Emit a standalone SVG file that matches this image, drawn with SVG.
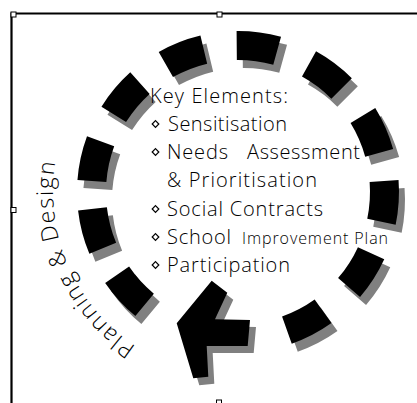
<svg xmlns="http://www.w3.org/2000/svg" xmlns:xlink="http://www.w3.org/1999/xlink" width="417" height="403" viewBox="0 0 417 403">
<style>
.blk{fill:#000}
.shd{fill:#808080}
.t{font-family:"Open Sans","Liberation Sans",sans-serif;font-weight:300;fill:#000}
.bul{fill:#fff;stroke:#000;stroke-width:1.2}
.hdl{fill:#fff;stroke:#000;stroke-width:1}
.frm{fill:none;stroke:#000;stroke-width:2.2}
</style>
<defs>
<path id="seg" d="M130.72,-18.37 L159.43,-22.41 A161,161 0 0 1 159.43,22.41 L130.72,18.37 A132,132 0 0 0 130.72,-18.37 Z"/>
<path id="arw" d="M211.7,280.7 L227.3,292.7 L215,319.3 L250,320 L247.7,346 L206.7,346 L208.3,376.7 L193.3,378.3 L176.7,323.3 Z"/>
<path id="pd-arc" d="M135.9,346.3 A185,185 0 0 1 55.8,159.9"/>
<path id="dia" d="M0,-3.3 L3.3,0 L0,3.3 L-3.3,0 Z"/>
</defs>
<rect width="417" height="403" fill="#fff"/>
<g id="frame">
<path class="frm" d="M11.5,403 V13.5 H417"/>
<rect class="hdl" x="11" y="12" width="5" height="5"/>
<rect class="hdl" x="217" y="12" width="5" height="5"/>
<rect class="hdl" x="11" y="207.5" width="5" height="5"/>
<rect class="hdl" x="216.5" y="400" width="5" height="5"/>
</g>
<g id="cycle">
<g id="seg-a"><use href="#seg" class="shd" transform="translate(244,200) rotate(-111.5)"/><use href="#seg" class="blk" transform="translate(238,192) rotate(-111.5)"/></g>
<g id="seg-b"><use href="#seg" class="shd" transform="translate(244,200) rotate(-82.5)"/><use href="#seg" class="blk" transform="translate(238,192) rotate(-82.5)"/></g>
<g id="seg-c"><use href="#seg" class="shd" transform="translate(244,200) rotate(-53)"/><use href="#seg" class="blk" transform="translate(238,192) rotate(-53)"/></g>
<g id="seg-d"><use href="#seg" class="shd" transform="translate(244,200) rotate(-23.5)"/><use href="#seg" class="blk" transform="translate(238,192) rotate(-23.5)"/></g>
<g id="seg-e"><use href="#seg" class="shd" transform="translate(244,200) rotate(3.7)"/><use href="#seg" class="blk" transform="translate(238,192) rotate(3.7)"/></g>
<g id="seg-f"><use href="#seg" class="shd" transform="translate(244,200) rotate(32.7)"/><use href="#seg" class="blk" transform="translate(238,192) rotate(32.7)"/></g>
<g id="seg-g"><use href="#seg" class="shd" transform="translate(244,200) rotate(62.5)"/><use href="#seg" class="blk" transform="translate(238,192) rotate(62.5)"/></g>
<g id="arrow-head"><use href="#arw" class="shd" transform="translate(6,7)"/><use href="#arw" class="blk"/></g>
<g id="seg-i"><use href="#seg" class="shd" transform="translate(244,200) rotate(137.6)"/><use href="#seg" class="blk" transform="translate(238,192) rotate(137.6)"/></g>
<g id="seg-j"><use href="#seg" class="shd" transform="translate(244,200) rotate(165.4)"/><use href="#seg" class="blk" transform="translate(238,192) rotate(165.4)"/></g>
<g id="seg-k"><use href="#seg" class="shd" transform="translate(244,200) rotate(192.3)"/><use href="#seg" class="blk" transform="translate(238,192) rotate(192.3)"/></g>
<g id="seg-l"><use href="#seg" class="shd" transform="translate(244,200) rotate(220)"/><use href="#seg" class="blk" transform="translate(238,192) rotate(220)"/></g>
</g>
<g id="key-elements">
<text class="t" x="150" y="103" font-size="20" textLength="138">Key Elements:</text>
<use href="#dia" class="bul" x="155.5" y="124"/>
<text class="t" x="168" y="131" font-size="20" textLength="119">Sensitisation</text>
<use href="#dia" class="bul" x="155.5" y="152"/>
<text class="t" x="167" y="159" font-size="20" textLength="61">Needs</text>
<text class="t" x="247" y="159" font-size="20" textLength="113">Assessment</text>
<text class="t" x="167" y="187" font-size="20" textLength="150">&amp; Prioritisation</text>
<use href="#dia" class="bul" x="155.5" y="209"/>
<text class="t" x="167" y="216" font-size="20" textLength="156">Social Contracts</text>
<use href="#dia" class="bul" x="155.5" y="237"/>
<text class="t" x="167" y="244" font-size="20" textLength="64">School</text>
<text class="t" x="242" y="244" font-size="16" textLength="146">Improvement Plan</text>
<use href="#dia" class="bul" x="155.5" y="265"/>
<text class="t" x="167" y="272" font-size="20" textLength="123">Participation</text>
</g>
<g id="planning-design">
<text class="t" font-size="23"><textPath href="#pd-arc" textLength="212">Planning &amp; Design</textPath></text>
</g>
</svg>
